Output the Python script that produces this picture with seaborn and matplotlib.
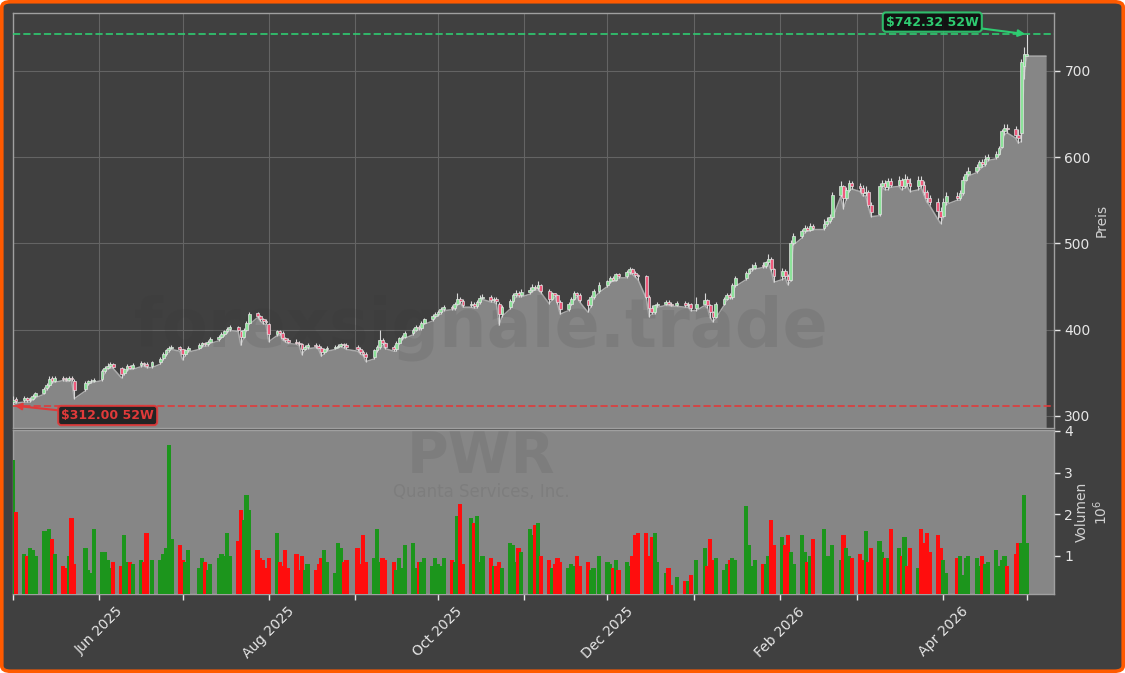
import numpy as np
import pandas as pd
import matplotlib
matplotlib.use("Agg")
import matplotlib.pyplot as plt
import matplotlib.dates as mdates
from matplotlib.ticker import FuncFormatter, FixedLocator
from matplotlib.patches import FancyBboxPatch
import seaborn as sns

# ---------------- data ----------------
ticker = "PWR"
company = "Quanta Services, Inc."
watermark = "forexsignale.trade"
start_date = "2025-05-01"
holidays = ["2025-05-26", "2025-06-19", "2025-07-04", "2025-09-01", "2025-11-27",
            "2025-12-25", "2026-01-01", "2026-01-19", "2026-02-16", "2026-04-03"]

close = [
    # May 2025
    319, 317, 321, 318, 320, 323, 326, 331, 336, 343, 341, 344, 343, 342, 344, 343, 330, 338, 340, 341, 342,
    # Jun
    352, 356, 358, 360, 357, 349, 354, 358, 356, 359, 361, 360, 358, 362, 366, 372, 376, 379, 380, 378,
    # Jul
    372, 376, 379, 382, 384, 383, 386, 389, 392, 395, 398, 401, 403, 400, 392, 400, 408, 418, 416, 412, 410, 409,
    # Aug
    395, 398, 396, 390, 388, 386, 385, 383, 378, 380, 382, 381, 379, 374, 377, 379, 380, 381, 383, 382, 380,
    # Sep
    378, 374, 372, 368, 376, 380, 388, 384, 380, 377, 385, 390, 392, 396, 400, 403, 402, 408, 412, 416, 418,
    # Oct
    420, 424, 426, 425, 430, 436, 433, 428, 430, 427, 432, 437, 438, 434, 436, 433, 418, 426, 433, 440, 443, 440, 444,
    # Nov
    446, 450, 448, 452, 445, 436, 442, 440, 432, 424, 430, 436, 442, 440, 434, 428, 438, 445, 452,
    # Dec
    456, 460, 458, 464, 462, 467, 470, 466, 463, 462, 438, 425, 420, 428, 430, 432, 430, 429, 431, 428, 430, 425,
    # Jan 2026
    430, 434, 428, 420, 415, 430, 436, 440, 438, 452, 460, 466, 470, 472, 475, 474, 478, 482, 470, 462,
    # Feb
    468, 462, 458, 500, 508, 514, 518, 516, 520, 518, 522, 526, 530, 556, 566, 552, 562, 570, 566,
    # Mar
    564, 558, 560, 545, 536, 567, 570, 565, 572, 568, 573, 567, 575, 570, 566, 574, 568, 560, 552, 548, 538, 530,
    # Apr
    548, 555, 553, 558, 574, 580, 584, 588, 594, 592, 598, 600, 604, 610, 630, 634, 632, 626, 622, 710, 720,
    # May 1
    719,
]
open_ = [
    316, 320, 318, 321, 318, 320, 323, 327, 332, 336, 344, 341, 344, 343, 342, 344, 341, 331, 338, 340, 341,
    343, 352, 356, 358, 360, 356, 350, 354, 358, 356, 359, 361, 360, 358, 362, 367, 372, 376, 379, 380,
    377, 372, 376, 379, 382, 384, 383, 386, 389, 392, 395, 398, 401, 403, 399, 392, 400, 408, 419, 416, 412, 410,
    407, 395, 398, 396, 390, 388, 386, 385, 383, 378, 380, 382, 381, 379, 374, 377, 379, 380, 381, 383, 382,
    380, 378, 374, 372, 368, 376, 380, 388, 384, 380, 377, 385, 390, 392, 396, 400, 403, 402, 408, 412, 416,
    418, 420, 424, 426, 425, 430, 436, 433, 428, 430, 427, 432, 437, 438, 434, 436, 430, 418, 426, 433, 440, 443, 440,
    444, 446, 450, 448, 452, 445, 436, 442, 440, 432, 424, 430, 436, 442, 440, 434, 428, 438, 445,
    452, 456, 460, 458, 464, 462, 467, 470, 466, 463, 462, 438, 425, 420, 428, 430, 432, 430, 429, 431, 428, 430,
    425, 430, 434, 428, 420, 415, 430, 436, 440, 438, 452, 460, 466, 470, 472, 475, 474, 478, 482, 470,
    462, 468, 462, 458, 500, 508, 514, 518, 516, 520, 518, 522, 526, 530, 556, 566, 552, 562, 570,
    566, 564, 558, 560, 545, 534, 567, 570, 565, 572, 568, 573, 567, 575, 570, 566, 574, 568, 560, 552, 548, 538,
    532, 548, 555, 553, 558, 574, 580, 584, 588, 594, 592, 598, 600, 604, 612, 630, 634, 632, 626, 628, 705,
    717,
]
high = [
    323, 322, 323, 322, 322, 325, 328, 333, 338, 346, 346, 346, 346, 345, 346, 346, 343, 340, 342, 343, 344,
    354, 358, 361, 363, 361, 357, 356, 360, 359, 361, 364, 363, 362, 364, 368, 374, 378, 381, 382, 381,
    378, 378, 381, 384, 386, 386, 388, 391, 394, 397, 400, 403, 405, 404, 400, 402, 410, 421, 420, 417, 413, 412,
    408, 400, 400, 398, 392, 390, 389, 387, 385, 382, 384, 384, 383, 381, 379, 381, 382, 383, 385, 385, 384,
    382, 380, 376, 374, 378, 382, 400, 390, 386, 382, 387, 392, 394, 398, 402, 405, 405, 410, 414, 418, 421,
    423, 426, 428, 428, 432, 442, 438, 435, 433, 432, 434, 440, 441, 440, 438, 438, 432, 428, 436, 442, 446, 445, 447,
    449, 453, 452, 456, 453, 447, 444, 443, 441, 434, 432, 438, 445, 444, 442, 436, 440, 447, 455,
    458, 462, 462, 466, 466, 469, 473, 471, 468, 465, 463, 440, 428, 430, 432, 434, 434, 432, 433, 433, 432, 431,
    438, 442, 436, 430, 422, 432, 438, 442, 442, 454, 462, 468, 472, 476, 478, 478, 480, 488, 484, 472,
    472, 470, 465, 504, 512, 517, 521, 520, 524, 522, 528, 530, 534, 560, 572, 568, 565, 574, 572,
    570, 568, 566, 562, 548, 570, 574, 574, 576, 576, 578, 576, 580, 578, 576, 578, 578, 572, 562, 556, 552, 542,
    552, 560, 560, 562, 578, 584, 588, 592, 597, 598, 602, 604, 607, 613, 633, 638, 638, 636, 632, 714, 728,
    742.32,
]
low = [
    312, 315, 316, 316, 316, 318, 321, 325, 330, 334, 338, 339, 341, 340, 340, 341, 320, 329, 336, 338, 339,
    341, 350, 354, 356, 355, 344, 348, 352, 354, 354, 357, 358, 356, 356, 360, 365, 370, 374, 377, 375,
    365, 370, 374, 377, 380, 381, 381, 384, 387, 390, 393, 396, 399, 398, 382, 390, 398, 406, 414, 410, 407, 406,
    386, 393, 394, 388, 386, 384, 383, 381, 371, 376, 378, 379, 377, 369, 372, 375, 377, 379, 380, 379, 377,
    375, 372, 370, 363, 366, 374, 378, 382, 378, 375, 375, 383, 388, 390, 394, 398, 400, 400, 406, 410, 414,
    416, 418, 422, 423, 423, 428, 431, 426, 426, 425, 425, 430, 435, 432, 432, 430, 405, 415, 424, 431, 438, 438, 438,
    441, 444, 446, 446, 443, 430, 434, 438, 430, 418, 422, 428, 434, 438, 432, 420, 426, 436, 443,
    450, 454, 456, 456, 460, 460, 465, 464, 461, 458, 436, 415, 418, 418, 426, 428, 428, 427, 427, 426, 426, 422,
    422, 428, 425, 414, 409, 413, 428, 434, 436, 436, 450, 458, 464, 468, 470, 472, 472, 476, 468, 455,
    458, 460, 452, 456, 498, 506, 512, 514, 514, 516, 516, 520, 524, 528, 554, 540, 550, 560, 563,
    560, 555, 555, 542, 531, 532, 565, 562, 562, 565, 566, 562, 564, 566, 560, 562, 565, 556, 548, 544, 528, 523,
    530, 545, 550, 550, 556, 572, 578, 582, 585, 588, 590, 596, 598, 602, 610, 626, 628, 622, 616, 618, 690,
    717,
]
volume_m = [
    3.3, 2.05, 1.05, 1.0, 1.2, 1.15, 1.0, 1.6, 1.6, 1.65, 1.4, 1.05, 0.75, 0.7, 1.0, 1.9, 0.8, 1.2, 0.65, 0.6, 1.65,
    1.1, 1.1, 0.9, 0.7, 0.85, 0.75, 1.5, 0.85, 0.85, 0.8, 0.9, 0.85, 1.55, 0.9, 0.9, 1.05, 1.2, 3.65, 1.4, 1.25,
    0.9, 0.85, 1.15, 0.7, 0.95, 0.85, 0.65, 0.8, 0.95, 1.05, 1.0, 1.55, 1.0, 1.35, 2.1, 1.85, 2.45, 2.1, 1.15, 0.95, 0.9, 0.7,
    0.95, 1.55, 0.85, 0.75, 1.15, 0.7, 1.05, 0.65, 1.0, 0.65, 0.8, 0.65, 0.8, 0.95, 1.15, 0.85, 0.6, 1.3, 1.2, 0.85, 0.9,
    1.2, 0.8, 1.5, 0.85, 0.95, 1.65, 0.85, 0.95, 0.9, 0.85, 0.65, 0.95, 0.7, 1.25, 1.3, 0.7, 0.85, 0.85, 0.95, 0.75, 0.95,
    0.8, 0.75, 0.95, 0.9, 0.85, 1.95, 2.25, 0.8, 1.9, 1.8, 1.95, 0.85, 1.0, 0.95, 0.75, 0.75, 0.85, 0.7, 1.3, 1.25, 0.85, 1.2, 1.1,
    1.65, 1.5, 1.75, 1.8, 1.0, 0.9, 0.7, 0.8, 0.95, 0.85, 0.7, 0.8, 0.75, 1.0, 0.75, 0.85, 0.65, 0.7, 1.0,
    0.85, 0.8, 0.7, 0.9, 0.65, 0.85, 0.75, 1.0, 1.5, 1.55, 1.55, 1.0, 1.45, 1.55, 0.85, 0.6, 0.7, 0.3, 0.5, 0.4, 0.4, 0.55,
    0.9, 1.2, 0.75, 1.4, 0.9, 0.95, 0.65, 0.8, 0.9, 0.95, 0.9, 2.2, 1.25, 0.75, 0.9, 0.8, 0.8, 1.0, 1.85, 1.25,
    1.45, 1.25, 1.5, 1.1, 0.8, 1.5, 1.1, 0.85, 1.0, 1.4, 1.65, 1.0, 1.0, 1.25, 0.9, 1.5, 1.2, 1.0, 0.95,
    1.05, 0.9, 1.6, 0.85, 1.2, 1.35, 1.1, 0.95, 0.95, 1.65, 1.2, 1.0, 1.45, 0.75, 1.2, 0.7, 1.65, 1.3, 1.55, 1.1, 1.5, 1.2,
    0.9, 0.6, 0.95, 1.0, 0.55, 0.95, 1.0, 0.95, 0.75, 1.0, 0.8, 0.85, 1.15, 0.75, 0.9, 1.0, 0.75, 1.05, 1.3, 1.3, 2.45,
    1.3,
]
area_tail_date = "2026-05-08"
area_tail_value = 717
high_52w = 742.32
low_52w = 312.00

# ---------------- frame ----------------
n = min(len(close), len(open_), len(high), len(low), len(volume_m))
dates = pd.bdate_range(start=start_date, periods=n, freq="C", holidays=holidays)
df = pd.DataFrame({"date": dates, "open": open_[:n], "high": high[:n], "low": low[:n],
                   "close": close[:n], "volume": np.array(volume_m[:n]) * 1e6})
df["up"] = df["close"] >= df["open"]

area = pd.concat([df[["date", "low"]],
                  pd.DataFrame({"date": [pd.Timestamp(area_tail_date)], "low": [area_tail_value]})],
                 ignore_index=True)

# ---------------- style ----------------
BG = "#404040"
GRID = "#646464"
AREA = "#868686"
TXT = "#e6e6e6"
sns.set_theme(style="dark")
plt.rcParams["font.family"] = ["DejaVu Sans"]

fig = plt.figure(figsize=(11.25, 6.73), dpi=100)
fig.patch.set_facecolor("white")
frame = FancyBboxPatch((0.0016, 0.0026), 0.9968, 0.9948, boxstyle="round,pad=0,rounding_size=0.008",
                       transform=fig.transFigure, facecolor=BG, edgecolor="#ff5a00", lw=2.6, zorder=-10)
fig.patches.append(frame)

ax1 = fig.add_axes([13 / 1125, 1 - 428 / 673, 1041 / 1125, 415 / 673])
ax2 = fig.add_axes([13 / 1125, 1 - 594 / 673, 1041 / 1125, 164 / 673], sharex=ax1)

for ax in (ax1, ax2):
    for s in ax.spines.values():
        s.set_color("#a0a0a0")
        s.set_linewidth(1.0)
    ax.yaxis.tick_right()
    ax.yaxis.set_label_position("right")
    ax.tick_params(axis="y", colors=TXT, labelsize=10, length=4, width=1, direction="out", right=True, left=False)

ax1.set_facecolor(BG)
ax2.set_facecolor(AREA)

# ---------------- price panel ----------------
ax1.fill_between(area["date"], area["low"], 0, color=AREA, zorder=1, lw=0)
sns.lineplot(data=area, x="date", y="low", ax=ax1, color="#ababab", lw=1.1, zorder=1.5)

ax1.text(0.4498, 0.2425, watermark, transform=ax1.transAxes, ha="center", va="center",
         fontsize=48, fontweight="bold", color="#333333", alpha=0.11, zorder=1.6)

ax1.vlines(df["date"], df["low"], df["high"], color="#d8d8d8", lw=0.8, zorder=3)
body_bottom = np.minimum(df["open"], df["close"])
body_height = np.abs(df["close"] - df["open"])
ax1.bar(df["date"], body_height, bottom=body_bottom, width=1.0,
        color=np.where(df["up"], "#8de39a", "#ee5a7c"), edgecolor="#e4e4e4", lw=0.5, zorder=4)

ax1.axhline(high_52w, color="#2ecc71", ls="--", lw=1.4, alpha=0.85, zorder=5)
ax1.axhline(low_52w, color="#e03a3a", ls="--", lw=1.4, alpha=0.85, zorder=5)

i_hi = int(np.argmax(df["high"]))
i_lo = int(np.argmin(df["low"]))
ax1.annotate(f"${high_52w:.2f} 52W", xy=(df["date"][i_hi], high_52w),
             xytext=(pd.Timestamp("2026-03-28"), 756.5), ha="center", va="center",
             fontsize=9, fontweight="bold", color="#2ecc71", zorder=8,
             bbox=dict(boxstyle="round,pad=0.25", fc="#0d0d0d", ec="#2ecc71", lw=1.5, alpha=0.9),
             arrowprops=dict(arrowstyle="-|>", color="#2ecc71", lw=1.5, shrinkA=0, shrinkB=1,
                             mutation_scale=10))
ax1.annotate(f"${low_52w:.2f} 52W", xy=(df["date"][i_lo], low_52w),
             xytext=(pd.Timestamp("2025-06-04"), 300.5), ha="center", va="center",
             fontsize=9, fontweight="bold", color="#e03a3a", zorder=8,
             bbox=dict(boxstyle="round,pad=0.25", fc="#1a1a1a", ec="#e03a3a", lw=1.5, alpha=0.9),
             arrowprops=dict(arrowstyle="-|>", color="#e03a3a", lw=1.5, shrinkA=0, shrinkB=1,
                             mutation_scale=10))

ax1.set_ylim(286, 767)
ax1.set_yticks([300, 400, 500, 600, 700])
ax1.set_ylabel("Preis", color="#d0d0d0", fontsize=10, labelpad=3)
ax1.grid(True, color=GRID, lw=0.8, zorder=0)
ax1.set_axisbelow(True)
ax1.tick_params(axis="x", length=0, labelbottom=False)
ax1.set_xlabel("")

# ---------------- volume panel ----------------
ax2.bar(df["date"], df["volume"], width=1.5,
        color=np.where(df["up"], "#1c951c", "#ff0d0d"), lw=0, zorder=3)
ax2.text(0.4498, 0.83, ticker, transform=ax2.transAxes, ha="center", va="center",
         fontsize=41, fontweight="bold", color="#333333", alpha=0.1, zorder=1)
ax2.text(0.4498, 0.62, company, transform=ax2.transAxes, ha="center", va="center",
         fontsize=12, color="#333333", alpha=0.1, zorder=1)
ax2.set_ylim(0.085e6, 4.02e6)
ax2.yaxis.set_major_locator(FixedLocator([1e6, 2e6, 3e6, 4e6]))
ax2.yaxis.set_major_formatter(FuncFormatter(lambda v, p: f"{v / 1e6:.0f}"))
ax2.set_ylabel("Volumen\n$10^6$", color="#d0d0d0", fontsize=10, labelpad=1)
ax2.grid(False)

ax2.set_xlim(pd.Timestamp("2025-04-30 22:00"), pd.Timestamp("2026-05-10 20:00"))
ax2.xaxis.set_major_locator(mdates.MonthLocator())
ax2.xaxis.set_major_formatter(FuncFormatter(
    lambda v, p: mdates.num2date(v).strftime("%b %Y") if mdates.num2date(v).month % 2 == 0 else ""))
ax2.tick_params(axis="x", colors=TXT, labelsize=10, length=4, width=1, direction="out", bottom=True)
for lab in ax2.get_xticklabels():
    lab.set_rotation(45)
    lab.set_ha("center")
ax2.set_xlabel("")
ax1.xaxis.set_major_locator(mdates.MonthLocator())

fig.savefig("out.png", dpi=100, facecolor=fig.get_facecolor())
